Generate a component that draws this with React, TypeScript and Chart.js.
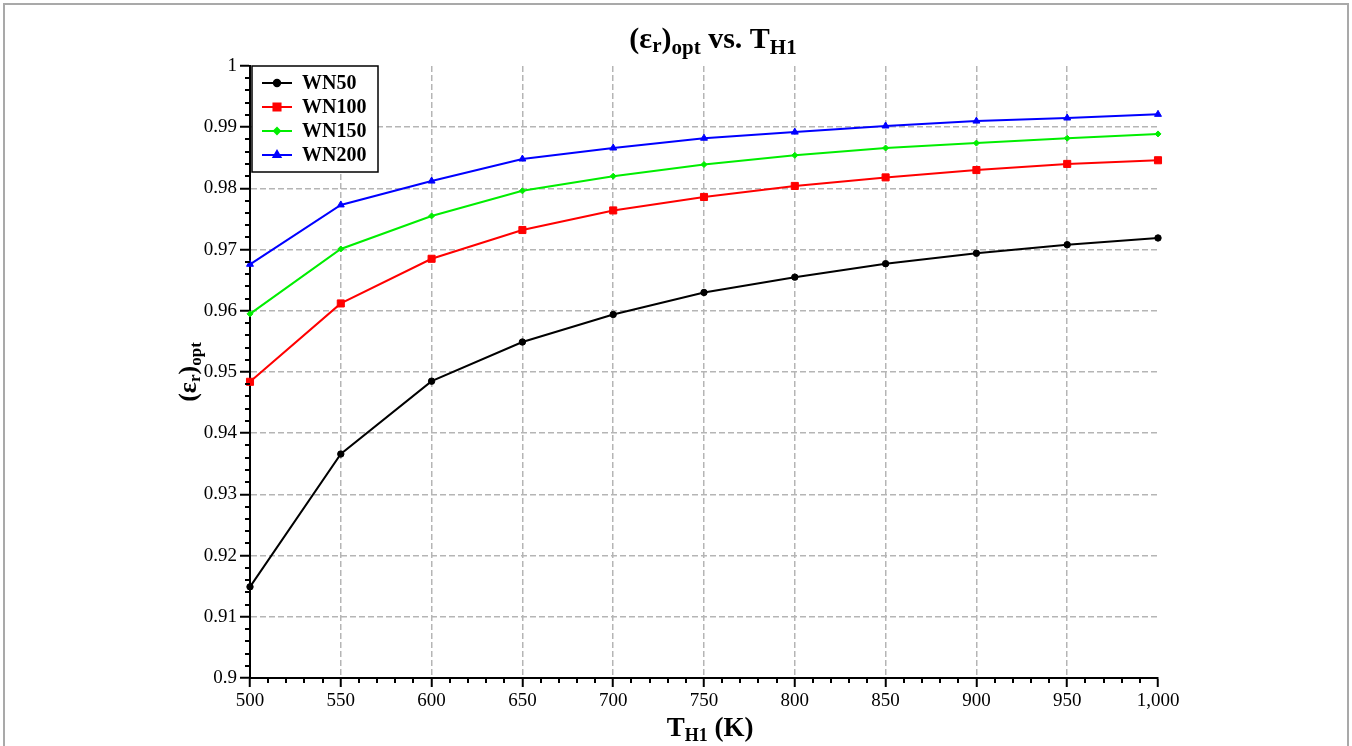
import React, { useEffect, useRef } from 'react';
import { Chart, registerables } from 'chart.js';
import { drawPoint } from 'chart.js/helpers';

Chart.register(...registerables);

// Hot-side temperature T_H1 (K)
const temperatures = [500, 550, 600, 650, 700, 750, 800, 850, 900, 950, 1000];

// Optimal regenerator effectiveness for each case
const wn50 = [0.9149, 0.9366, 0.9485, 0.9549, 0.9594, 0.963, 0.9655, 0.9677, 0.9694, 0.9708, 0.9719];
const wn100 = [0.9484, 0.9612, 0.9685, 0.9732, 0.9764, 0.9786, 0.9804, 0.9818, 0.983, 0.984, 0.9846];
const wn150 = [0.9595, 0.9701, 0.9755, 0.9796, 0.982, 0.9839, 0.9854, 0.9866, 0.9874, 0.9882, 0.9889];
const wn200 = [0.9676, 0.9773, 0.9812, 0.9848, 0.9866, 0.9882, 0.9892, 0.9902, 0.991, 0.9915, 0.9921];

const seriesNames = ['WN50', 'WN100', 'WN150', 'WN200'];
const seriesColors = ['#000000', '#ff0000', '#00ee00', '#0000ff'];

const xTickLabels = ['500', '550', '600', '650', '700', '750', '800', '850', '900', '950', '1,000'];
const yTickLabels = ['0.9', '0.91', '0.92', '0.93', '0.94', '0.95', '0.96', '0.97', '0.98', '0.99', '1'];

const SERIF = '"Liberation Serif", "Times New Roman", serif';
const GRID_GRAY = '#b5b5b5';

type Part = { text: string; size: number; dy?: number };

function richWidth(ctx: CanvasRenderingContext2D, parts: Part[]) {
  let w = 0;
  for (const p of parts) {
    ctx.font = `bold ${p.size}px ${SERIF}`;
    w += ctx.measureText(p.text).width;
  }
  return w;
}

function drawRich(ctx: CanvasRenderingContext2D, parts: Part[], cx: number, baseline: number) {
  let x = cx - richWidth(ctx, parts) / 2;
  ctx.textAlign = 'left';
  ctx.textBaseline = 'alphabetic';
  for (const p of parts) {
    ctx.font = `bold ${p.size}px ${SERIF}`;
    ctx.fillText(p.text, x, baseline + (p.dy || 0));
    x += ctx.measureText(p.text).width;
  }
}

const titleParts: Part[] = [
  { text: '(\u03b5', size: 30 },
  { text: 'r', size: 21, dy: 4 },
  { text: ')', size: 30 },
  { text: 'opt', size: 21, dy: 6 },
  { text: ' vs. T', size: 30 },
  { text: 'H1', size: 21, dy: 6 },
];

const yTitleParts: Part[] = [
  { text: '(\u03b5', size: 26 },
  { text: 'r', size: 17, dy: 4 },
  { text: ')', size: 26 },
  { text: 'opt', size: 17, dy: 5 },
];

const xTitleParts: Part[] = [
  { text: 'T', size: 27 },
  { text: 'H1', size: 18, dy: 5 },
  { text: ' (K)', size: 27 },
];

const pointStyles = ['circle', 'rect', 'rectRot', 'triangle'];
const pointRadii = [3.2, 5, 3, 4];

// Page frame, titles, minor ticks and the boxed legend
const decorations = {
  id: 'decorations',
  beforeDraw(chart: Chart) {
    const { ctx, width, height } = chart;
    ctx.save();
    ctx.fillStyle = '#ffffff';
    ctx.fillRect(0, 0, width, height);
    ctx.strokeStyle = '#a9a9a9';
    ctx.lineWidth = 2;
    ctx.beginPath();
    ctx.moveTo(4, height);
    ctx.lineTo(4, 4);
    ctx.lineTo(width - 4, 4);
    ctx.lineTo(width - 4, height);
    ctx.stroke();
    ctx.restore();
  },
  afterDraw(chart: Chart) {
    const { ctx, chartArea } = chart;
    const xs: any = chart.scales.x;
    const ys: any = chart.scales.y;
    ctx.save();

    // minor ticks: four between each pair of labelled ticks
    ctx.strokeStyle = '#000';
    ctx.lineWidth = 2;
    ctx.beginPath();
    for (let i = 0; i < xs.ticks.length - 1; i++) {
      const a = xs.getPixelForValue(xs.ticks[i].value);
      const b = xs.getPixelForValue(xs.ticks[i + 1].value);
      for (let k = 1; k < 5; k++) {
        const px = Math.round(a + ((b - a) * k) / 5);
        ctx.moveTo(px, chartArea.bottom);
        ctx.lineTo(px, chartArea.bottom + 5);
      }
    }
    for (let i = 0; i < ys.ticks.length - 1; i++) {
      const a = ys.getPixelForValue(ys.ticks[i].value);
      const b = ys.getPixelForValue(ys.ticks[i + 1].value);
      for (let k = 1; k < 5; k++) {
        const py = Math.round(a + ((b - a) * k) / 5);
        ctx.moveTo(chartArea.left - 5, py);
        ctx.lineTo(chartArea.left, py);
      }
    }
    ctx.stroke();

    // titles
    ctx.fillStyle = '#000';
    const midX = (chartArea.left + chartArea.right) / 2;
    drawRich(ctx, titleParts, midX + 9, 48);
    drawRich(ctx, xTitleParts, midX + 6, 736);
    ctx.save();
    ctx.translate(196, (chartArea.top + chartArea.bottom) / 2);
    ctx.rotate(-Math.PI / 2);
    drawRich(ctx, yTitleParts, 0, 0);
    ctx.restore();

    // legend box
    const bx = chartArea.left + 2;
    const by = chartArea.top;
    const bw = 126;
    const bh = 106;
    ctx.fillStyle = '#fff';
    ctx.fillRect(bx, by, bw, bh);
    ctx.strokeStyle = '#000';
    ctx.lineWidth = 1.5;
    ctx.strokeRect(bx, by, bw, bh);
    chart.data.datasets.forEach((ds: any, i: number) => {
      const y = by + 17 + i * 24;
      const color = ds.borderColor as string;
      ctx.strokeStyle = color;
      ctx.lineWidth = 2;
      ctx.beginPath();
      ctx.moveTo(bx + 10, y);
      ctx.lineTo(bx + 40, y);
      ctx.stroke();
      ctx.fillStyle = color;
      drawPoint(ctx, { pointStyle: ds.pointStyle, radius: ds.pointRadius, rotation: 0, borderWidth: 1 } as any, bx + 25, y);
      ctx.fillStyle = '#000';
      ctx.font = `bold 20px ${SERIF}`;
      ctx.textAlign = 'left';
      ctx.textBaseline = 'middle';
      ctx.fillText(ds.label, bx + 50, y + 1);
    });
    ctx.restore();
  },
};

export default function App() {
  const canvasRef = useRef<HTMLCanvasElement | null>(null);

  useEffect(() => {
    const canvas = canvasRef.current;
    if (!canvas) return;
    const seriesValues = [wn50, wn100, wn150, wn200];

    const chart = new Chart(canvas, {
      type: 'line',
      data: {
        labels: temperatures,
        datasets: seriesValues.map((vals, i) => ({
          label: seriesNames[i],
          data: vals.map((v, j) => ({ x: temperatures[j], y: v })),
          borderColor: seriesColors[i],
          backgroundColor: seriesColors[i],
          pointBackgroundColor: seriesColors[i],
          pointBorderColor: seriesColors[i],
          pointStyle: pointStyles[i],
          pointRadius: pointRadii[i],
          pointBorderWidth: 1,
          borderWidth: 2,
          tension: 0,
          clip: false,
        })) as any,
      },
      options: {
        responsive: false,
        animation: false,
        devicePixelRatio: 1,
        layout: { padding: { top: 66, right: 194, left: 0, bottom: 0 } },
        plugins: { legend: { display: false }, title: { display: false }, tooltip: { enabled: false } },
        scales: {
          x: {
            type: 'linear',
            min: 500,
            max: 1000,
            afterBuildTicks: (scale: any) => {
              scale.ticks = xTickLabels.map((l) => ({ value: Number(l.replace(',', '')) }));
            },
            afterFit: (scale: any) => {
              scale.height = 68;
            },
            ticks: {
              autoSkip: false,
              maxRotation: 0,
              color: '#000',
              padding: 3,
              font: { family: SERIF, size: 19 },
              callback: (_v: any, i: number) => xTickLabels[i],
            },
            grid: {
              color: (c: any) => (c.tick && c.tick.value === 1000 ? 'rgba(0,0,0,0)' : GRID_GRAY),
              lineWidth: 1.5,
              tickColor: '#000',
              tickLength: 9,
              tickWidth: 2,
              tickBorderDash: [],
            },
            border: { display: true, color: '#000', width: 2, dash: [6, 3] },
          },
          y: {
            type: 'linear',
            min: 0.9,
            max: 1,
            afterBuildTicks: (scale: any) => {
              scale.ticks = yTickLabels.map((l) => ({ value: Number(l) }));
            },
            afterFit: (scale: any) => {
              scale.width = 250;
            },
            ticks: {
              autoSkip: false,
              color: '#000',
              padding: 3,
              font: { family: SERIF, size: 19 },
              callback: (_v: any, i: number) => yTickLabels[i],
            },
            grid: {
              color: (c: any) => (c.tick && c.tick.value === 1 ? 'rgba(0,0,0,0)' : GRID_GRAY),
              lineWidth: 1.5,
              tickColor: '#000',
              tickLength: 10,
              tickWidth: 2,
              tickBorderDash: [],
            },
            border: { display: true, color: '#000', width: 2, dash: [6, 3] },
          },
        },
      },
      plugins: [decorations],
    } as any);

    return () => chart.destroy();
  }, []);

  return (
    <div style={{ position: 'fixed', left: 0, top: 0, width: 1352, height: 746, background: '#fff' }}>
      <canvas ref={canvasRef} width={1352} height={746} style={{ display: 'block', width: 1352, height: 746 }} />
    </div>
  );
}
